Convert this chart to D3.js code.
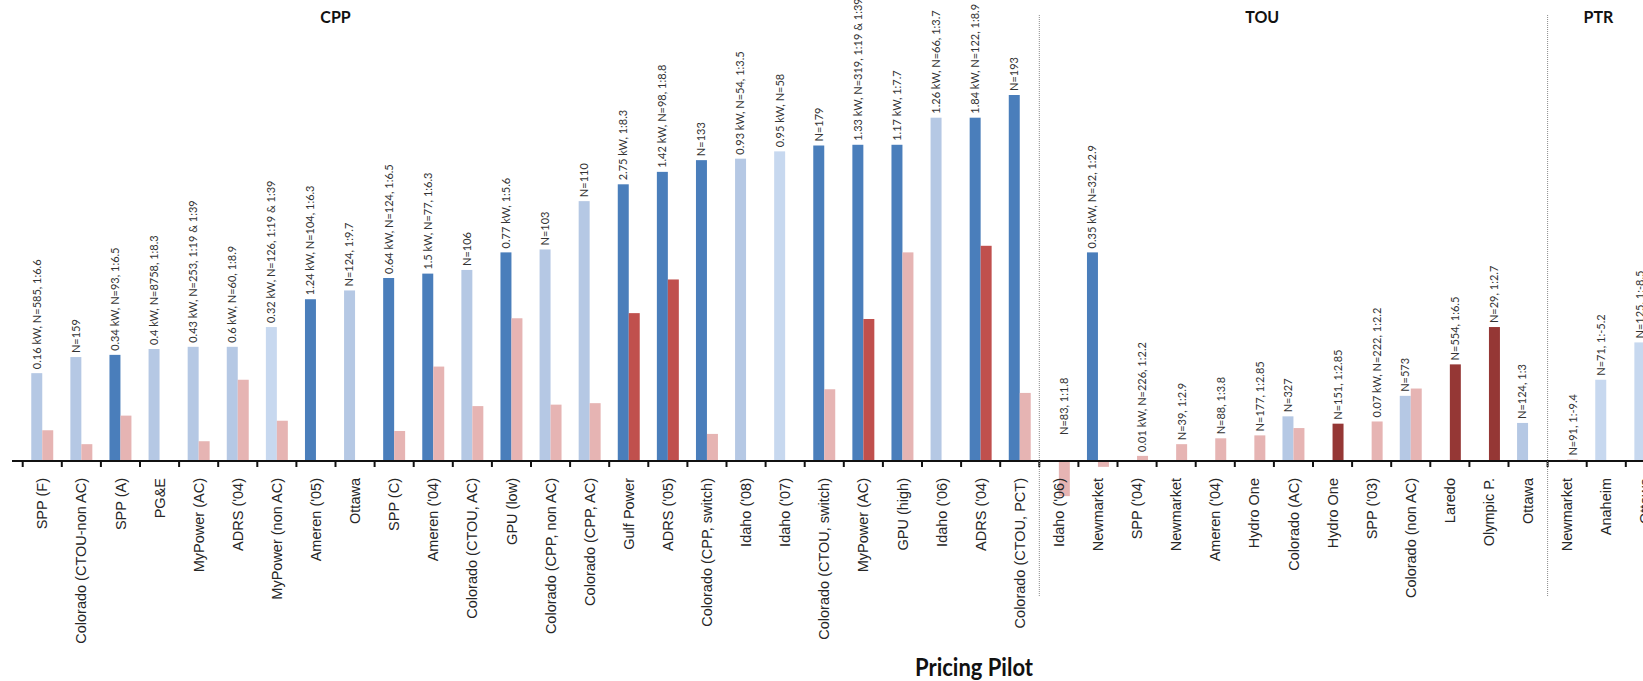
<!DOCTYPE html>
<html>
<head>
<meta charset="utf-8">
<script src="https://cdn.jsdelivr.net/npm/d3@7"></script>
<style>
  body { margin: 0; background: #fff; }
  svg { display: block; font-family: Lato, "Open Sans", sans-serif; }
  .xlab text { font-size: 14.5px; fill: #262626; }
  .note { font-size: 11px; fill: #333; }
  .title { font-weight: bold; fill: #111; }
</style>
</head>
<body>
<script>
// pilots in plot order, left to right
var pilots = ["SPP (F)", "Colorado (CTOU-non AC)", "SPP (A)", "PG&E", "MyPower (AC)", "ADRS ('04)",
  "MyPower (non AC)", "Ameren ('05)", "Ottawa", "SPP (C)", "Ameren ('04)", "Colorado (CTOU, AC)",
  "GPU (low)", "Colorado (CPP, non AC)", "Colorado (CPP, AC)", "Gulf Power", "ADRS ('05)",
  "Colorado (CPP, switch)", "Idaho ('08)", "Idaho ('07)", "Colorado (CTOU, switch)", "MyPower (AC)",
  "GPU (high)", "Idaho ('06)", "ADRS ('04)", "Colorado (CTOU, PCT)",
  "Idaho ('06)", "Newmarket", "SPP ('04)", "Newmarket", "Ameren ('04)", "Hydro One", "Colorado (AC)",
  "Hydro One", "SPP ('03)", "Colorado (non AC)", "Laredo", "Olympic P.", "Ottawa",
  "Newmarket", "Anaheim", "Ottawa"];

var programs = ["CPP", "TOU", "PTR"];
var programCount = [26, 13, 3];

// blue series (peak reduction, %), null = not reported
var peakCut = [12.0, 14.2, 14.5, 15.3, 15.6, 15.6, 18.3, 22.1, 23.3, 25.0, 25.6, 26.1,
  28.5, 28.9, 35.5, 37.8, 39.5, 41.1, 41.3, 42.3, 43.1, 43.2, 43.2, 46.9, 46.9, 50.0,
  null, 28.5, null, null, null, null, 6.1, null, null, 8.9, null, null, 5.2,
  null, 11.1, 16.2];

// red series (%), null = not reported
var otherCut = [4.2, 2.3, 6.2, null, 2.7, 11.1, 5.5, null, null, 4.1, 12.9, 7.5,
  19.5, 7.7, 7.9, 20.2, 24.8, 3.7, null, null, 9.8, 19.4, 28.5, null, 29.4, 9.3,
  -4.8, -0.8, 0.7, 2.3, 3.1, 3.5, 4.5, 5.1, 5.4, 9.9, 13.2, 18.3, null,
  0.2, null, null];

// shade class of each bar (t = enabling tech, n = none, p = pilot only)
var peakKind = ["n", "n", "t", "n", "n", "n", "p", "t", "n", "t", "t", "n",
  "t", "n", "n", "t", "t", "t", "n", "p", "t", "t", "t", "n", "t", "t",
  null, "t", null, null, null, null, "n", null, null, "n", null, null, "n",
  null, "p", "p"];
var otherKind = ["n", "n", "n", null, "n", "n", "n", null, null, "n", "n", "n",
  "n", "n", "n", "m", "m", "n", null, null, "n", "m", "n", null, "m", "n",
  "n", "n", "n", "n", "n", "n", "n", "d", "n", "n", "d", "d", null,
  "n", null, null];

var notes = ["0.16 kW, N=585, 1:6.6", "N=159", "0.34 kW, N=93, 1:6.5", "0.4 kW, N=8758, 1:8.3",
  "0.43 kW, N=253, 1:19 & 1:39", "0.6 kW, N=60, 1:8.9", "0.32 kW, N=126, 1:19 & 1:39",
  "1.24 kW, N=104, 1:6.3", "N=124, 1:9.7", "0.64 kW, N=124, 1:6.5", "1.5 kW, N=77, 1:6.3",
  "N=106", "0.77 kW, 1:5.6", "N=103", "N=110", "2.75 kW, 1:8.3", "1.42 kW, N=98, 1:8.8",
  "N=133", "0.93 kW, N=54, 1:3.5", "0.95 kW, N=58", "N=179", "1.33 kW, N=319, 1:19 & 1:39",
  "1.17 kW, 1:7.7", "1.26 kW, N=66, 1:3.7", "1.84 kW, N=122, 1:8.9", "N=193",
  "N=83, 1:1.8", "0.35 kW, N=32, 1:2.9", "0.01 kW, N=226, 1:2.2", "N=39, 1:2.9",
  "N=88, 1:3.8", "N=177, 1:2.85", "N=327", "N=151, 1:2.85", "0.07 kW, N=222, 1:2.2",
  "N=573", "N=554, 1:6.5", "N=29, 1:2.7", "N=124, 1:3",
  "N=91, 1:-9.4", "N=71, 1:-5.2", "N=125, 1:-8.5"];

var width = 1643, height = 681;

var blueFill = {t: "#4a7ebb", n: "#b5c8e4", p: "#c7d8ef"};
var redFill = {n: "#e6b4b3", m: "#c0504d", d: "#953735"};

var svg = d3.select("body").append("svg")
    .attr("width", width)
    .attr("height", height);

// one band per pilot, two sub-bands per band
var x = d3.scaleBand()
    .domain(d3.range(pilots.length))
    .range([22.7, 22.7 + 39.1 * pilots.length]);

var x1 = d3.scaleBand()
    .domain(["peak", "other"])
    .range([0, x.bandwidth()])
    .paddingOuter(0.78);

var y = d3.scaleLinear().domain([0, 50]).range([461, 95]);

var rows = pilots.map(function(p, i) {
  return {i: i, peak: peakCut[i], other: otherCut[i], pk: peakKind[i], ok: otherKind[i], note: notes[i]};
});

function barY(v) { return y(Math.max(0, v)); }
function barH(v) { return Math.abs(y(v) - y(0)); }

// blue bars
svg.append("g").selectAll("rect")
    .data(rows.filter(function(d) { return d.peak != null; }))
  .enter().append("rect")
    .attr("x", function(d) { return x(d.i) + x1("peak"); })
    .attr("width", x1.bandwidth())
    .attr("y", function(d) { return barY(d.peak); })
    .attr("height", function(d) { return barH(d.peak); })
    .style("fill", function(d) { return blueFill[d.pk]; });

// red bars
svg.append("g").selectAll("rect")
    .data(rows.filter(function(d) { return d.other != null; }))
  .enter().append("rect")
    .attr("x", function(d) { return x(d.i) + x1("other"); })
    .attr("width", x1.bandwidth())
    .attr("y", function(d) { return barY(d.other); })
    .attr("height", function(d) { return barH(d.other); })
    .style("fill", function(d) { return redFill[d.ok]; });

// data labels, sitting on the blue bar if there is one
svg.append("g").selectAll("text")
    .data(rows)
  .enter().append("text")
    .attr("class", "note")
    .attr("transform", function(d) {
      var s = d.peak != null ? "peak" : "other";
      var v = d.peak != null ? d.peak : d.other;
      var cx = x(d.i) + x1(s) + x1.bandwidth() / 2;
      var cy = v < 0 ? y(0) - 26 : barY(v) - 4;
      return "translate(" + cx + "," + cy + ") rotate(-90)";
    })
    .attr("dy", "0.35em")
    .text(function(d) { return d.note; });

// x axis
var ax = svg.append("g")
    .attr("class", "xlab")
    .attr("transform", "translate(0," + y(0) + ")")
    .call(d3.axisBottom(x).tickSize(0).tickFormat(function(i) { return pilots[i]; }));

ax.select(".domain").remove();
ax.selectAll("text")
    .attr("transform", "translate(0,17) rotate(-90)")
    .attr("text-anchor", "end")
    .attr("x", 0)
    .attr("y", 0)
    .attr("dy", "0.35em");

ax.append("line")
    .attr("x1", 12).attr("x2", width)
    .attr("stroke", "#111").attr("stroke-width", 2);

ax.selectAll(".bound")
    .data(d3.range(pilots.length + 1))
  .enter().append("line")
    .attr("class", "bound")
    .attr("x1", function(i) { return x.range()[0] + i * x.step(); })
    .attr("x2", function(i) { return x.range()[0] + i * x.step(); })
    .attr("y1", 0).attr("y2", 6)
    .attr("stroke", "#111").attr("stroke-width", 2);

// program separators and headings
var starts = [0], acc = 0;
programCount.forEach(function(n) { acc += n; starts.push(acc); });
var titleAt = [8.0, 31.7, 40.3];

svg.append("g").selectAll("line")
    .data(starts.slice(1, programs.length))
  .enter().append("line")
    .attr("x1", function(i) { return x.range()[0] + i * x.step(); })
    .attr("x2", function(i) { return x.range()[0] + i * x.step(); })
    .attr("y1", 15).attr("y2", 596)
    .attr("stroke", "#8a8a8a")
    .attr("stroke-width", 1)
    .attr("stroke-dasharray", "1,1");

svg.append("g").selectAll("text")
    .data(programs)
  .enter().append("text")
    .attr("class", "title")
    .attr("transform", function(d, i) {
      return "translate(" + (x.range()[0] + titleAt[i] * x.step()) + ",23) scale(1,1.1)";
    })
    .attr("text-anchor", "middle")
    .style("font-size", "16px")
    .text(function(d) { return d; });

svg.append("text")
    .attr("class", "title")
    .attr("transform", "translate(974,676) scale(1,1.1)")
    .attr("text-anchor", "middle")
    .style("font-size", "22px")
    .text("Pricing Pilot");
</script>
</body>
</html>
